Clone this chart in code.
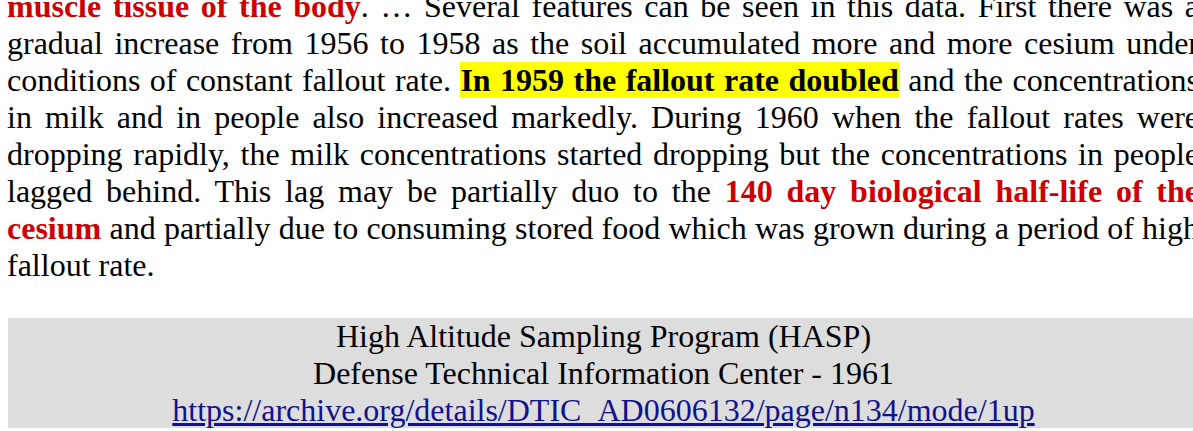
<!DOCTYPE html>
<html>
<head>
<meta charset="utf-8">
<script src="https://cdn.jsdelivr.net/npm/chart.js@4"></script>
<style>
  html, body { margin: 0; padding: 0; background: #fff; overflow: hidden; }
  body { width: 1193px; height: 431px; position: relative; }
  .page {
    position: absolute; left: 7px; top: -12px; width: 1192px;
    font-family: "Liberation Serif", "Times New Roman", serif;
    font-size: 32px; line-height: normal; color: #000;
  }
  .para { margin: 0 0 34px 0; }
  .para .ln { display: block; text-align: justify; text-align-last: justify; white-space: nowrap; }
  .para .ln.last { text-align-last: left; }
  .red { color: #cc0000; font-weight: bold; }
  .hl { background: #ffff00; font-weight: bold; }
  .cite { background: #dddddd; text-align: center; margin-left: 1px; height: 110px; }
  .cite a { color: #12128c; }
</style>
</head>
<body>
<div class="page">
  <div class="para">
    <span class="ln"><span class="red">muscle tissue of the body</span>. … Several features can be seen in this data. First there was a</span>
    <span class="ln">gradual increase from 1956 to 1958 as the soil accumulated more and more cesium under</span>
    <span class="ln">conditions of constant fallout rate. <span class="hl">In 1959 the fallout rate doubled</span> and the concentrations</span>
    <span class="ln">in milk and in people also increased markedly. During 1960 when the fallout rates were</span>
    <span class="ln">dropping rapidly, the milk concentrations started dropping but the concentrations in people</span>
    <span class="ln">lagged behind. This lag may be partially duo to the <span class="red">140 day biological half-life of the</span></span>
    <span class="ln"><span class="red">cesium</span> and partially due to consuming stored food which was grown during a period of high</span>
    <span class="ln last">fallout rate.</span>
  </div>
  <div class="cite">
    High Altitude Sampling Program (HASP)<br>
    Defense Technical Information Center - 1961<br>
    <a href="https://archive.org/details/DTIC_AD0606132/page/n134/mode/1up">https://archive.org/details/DTIC_AD0606132/page/n134/mode/1up</a>
  </div>
</div>
</body>
</html>
